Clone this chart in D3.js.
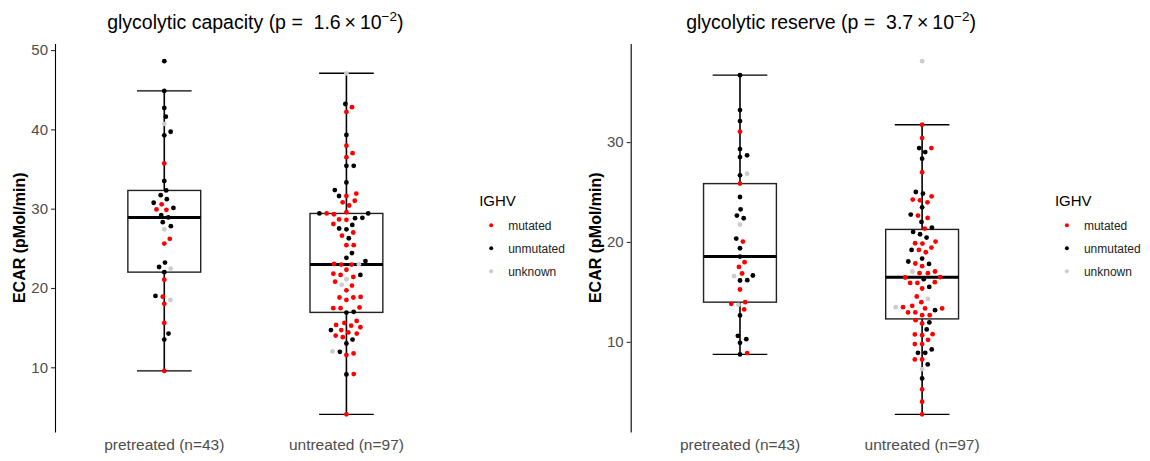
<!DOCTYPE html>
<html>
<head>
<meta charset="utf-8">
<script src="https://cdn.jsdelivr.net/npm/d3@7"></script>
<style>
  body { margin: 0; background: #fff; }
  svg { display: block; font-family: "Liberation Sans", Arial, sans-serif; }
</style>
</head>
<body>
<div id="chart"></div>
<script>
// categories + legend
const groups = ['pretreated (n=43)', 'untreated (n=97)'];
const ighvLevels = ['mutated', 'unmutated', 'unknown'];
const ighvColors = ['#ff0000', '#000000', '#cccccc'];
// status codes: m = mutated, u = unmutated, x = unknown

// glycolytic capacity
const capPreVals = [48.6, 44.85, 42.7, 41.6, 40.7, 39.7, 39.25, 35.7, 33.5, 32.3, 31.7, 31.2, 30.75, 30.55, 30.1, 29.9, 29.85, 29.2, 28.9, 28.3, 27.8, 27.4, 26.2, 25.6, 23.2, 22.65, 22.45, 22.0, 21.05, 19.0, 18.9, 18.5, 18.0, 15.6, 14.25, 13.5, 9.55];
const capPreIGHV = ['u','u','u','u','x','u','u','m','u','u','u','u','u','m','u','m','m','u','u','u','u','x','m','m','u','u','x','u','m','u','m','x','m','m','u','u','m'];
const capUntVals = [47.07, 43.2, 42.8, 42.2, 39.3, 37.95, 37.0, 36.5, 35.4, 35.4,
  33.3, 32.35, 31.9, 31.6, 31.6, 31.0, 30.8, 30.4, 29.55, 29.4,
  29.4, 29.4, 29.3, 28.85, 28.8, 28.65, 28.6, 28.07, 27.95, 27.5,
  27.4, 27.0, 26.6, 26.27, 25.4, 25.4, 24.4, 23.8, 23.4, 23.0,
  22.95, 22.95, 23.03, 22.3, 21.8, 21.65, 21.65, 21.4, 21.1, 20.8,
  20.4, 20.3, 19.7, 18.87, 18.8, 18.8, 18.5, 17.55, 17.45, 17.45,
  17.0, 16.9, 15.85, 15.6, 15.35, 15.25, 15.05, 14.7, 14.7, 14.4,
  14.25, 14.0, 13.8, 13.5, 13.0, 12.0, 11.95, 11.75, 11.55, 9.15,
  9.1, 4.07];
const capUntIGHV = ['x','u','m','m','u','m','m','m','u','u',
  'u','u','m','m','u','m','m','m','m','m',
  'u','u','m','u','u','m','m','m','u','u',
  'u','m','m','u','m','m','u','u','u','x',
  'm','m','m','m','m','m','u','m','x','m',
  'x','m','m','m','m','m','m','m','m','m',
  'u','u','m','m','m','m','m','m','u','m',
  'm','m','m','u','u','x','u','m','m','m',
  'u','m'];

// glycolytic reserve
const resPreVals = [36.7, 33.2, 32.1, 31.04, 29.3, 28.67, 28.5, 26.84, 26.67, 25.84, 24.5, 23.27, 22.64, 22.37, 21.74, 20.34, 20.04, 19.37, 18.54, 17.97, 17.5, 16.84, 16.64, 16.57, 16.17, 16.14, 15.24, 13.97, 13.8, 13.7, 13.24, 12.64, 10.6, 10.27, 9.9, 8.87, 8.74];
const resPreIGHV = ['u','u','u','m','u','u','u','x','u','m','u','u','u','u','x','u','m','u','u','m','m','m','u','x','u','u','m','m','m','x','m','u','u','u','u','m','u'];
const resUntVals = [38.1, 31.74, 30.4, 29.4, 29.4, 29.0, 28.34, 26.97, 25.0, 24.84,
  24.57, 24.24, 24.17, 23.97, 23.47, 22.74, 22.64, 22.4, 22.0, 21.44,
  21.34, 21.0, 20.77, 20.44, 20.04, 19.87, 19.84, 19.44, 19.2, 19.2,
  18.97, 18.34, 18.04, 17.84, 17.8, 17.57, 17.04, 17.04, 16.87, 16.87,
  16.47, 16.44, 16.27, 15.97, 15.9, 15.9, 15.5, 15.34, 14.54, 14.3,
  13.97, 13.6, 13.47, 13.47, 13.34, 13.34, 13.17, 12.94, 12.94, 12.67,
  12.67, 12.17, 11.94, 11.84, 11.24, 10.77, 10.74, 10.67, 10.2, 9.77,
  9.77, 9.24, 8.9, 8.9, 8.24, 8.24, 7.74, 7.27, 6.34, 5.24,
  4.0, 2.74];
const resUntIGHV = ['x','m','m','u','m','u','u','m','u','u',
  'm','m','m','m','u','u','m','m','u','u',
  'm','u','u','u','m','m','m','m','m','u',
  'm','u','u','m','u','m','x','m','m','m',
  'm','m','u','m','m','m','u','m','m','x',
  'm','m','m','x','m','m','u','m','m','m',
  'm','m','u','m','u','m','m','m','m','m',
  'm','u','u','u','m','m','u','x','u','m',
  'm','m'];

const capTicks = [10, 20, 30, 40, 50];
const resTicks = [10, 20, 30];

const W = 1150, H = 461;
const svg = d3.select('#chart').append('svg').attr('width', W).attr('height', H);
svg.append('rect').attr('width', W).attr('height', H).attr('fill', '#fff');

const color = d3.scaleOrdinal().domain(['m', 'u', 'x']).range(ighvColors);

// simple swarm layout (ascending priority) in pixel space
function swarm(py, D) {
  const order = d3.range(py.length).sort((a, b) => py[b] - py[a]);
  const placed = [];
  const off = new Array(py.length);
  order.forEach(i => {
    const yi = py[i];
    const near = placed.filter(p => Math.abs(p.y - yi) < D);
    let cands = [0];
    near.forEach(p => {
      const dx = Math.sqrt(D * D - (p.y - yi) ** 2);
      cands.push(p.x + dx, p.x - dx);
    });
    cands = cands.filter(c => near.every(p => (p.x - c) ** 2 + (p.y - yi) ** 2 >= D * D - 1e-6));
    cands.sort((a, b) => (Math.abs(a) - Math.abs(b)) > 1e-6 ? 1 : (Math.abs(b) - Math.abs(a)) > 1e-6 ? -1 : b - a);
    off[i] = cands[0];
    placed.push({ x: cands[0], y: yi });
  });
  return off;
}

function boxStats(vals) {
  const s = vals.slice().sort(d3.ascending);
  const q1 = d3.quantileSorted(s, 0.25), med = d3.quantileSorted(s, 0.5), q3 = d3.quantileSorted(s, 0.75);
  const iqr = q3 - q1;
  const lo = d3.min(s.filter(v => v >= q1 - 1.5 * iqr));
  const hi = d3.max(s.filter(v => v <= q3 + 1.5 * iqr));
  return { q1, med, q3, lo, hi };
}

function drawPanel(p) {
  const left = p.left, innerW = 400.7;
  const top = 43.5, bottom = 432;
  const all = p.series.flatMap(s => s.vals);
  const [mn, mx] = d3.extent(all);
  const pad = (mx - mn) * 0.05;
  const y = d3.scaleLinear().domain([mn - pad, mx + pad]).range([bottom, top]);
  const x = d3.scalePoint().domain(groups).range([left, left + innerW]).padding(0.6);
  const step = x.step();
  const g = svg.append('g');

  // title
  const t = g.append('text')
    .attr('x', left + innerW / 2)
    .attr('y', 28.5)
    .attr('text-anchor', 'middle')
    .attr('font-size', '19.5px')
    .attr('fill', '#000')
    .style('white-space', 'pre');
  t.append('tspan').text(p.title);
  t.append('tspan').attr('font-size', '13.5px').attr('dy', -8).text('\u22122');
  t.append('tspan').attr('dy', 8).text(')');

  // y axis
  const ax = g.append('g')
    .attr('transform', `translate(${left},0)`)
    .call(d3.axisLeft(y).tickValues(p.ticks).tickSize(4).tickSizeOuter(0).tickPadding(3));
  ax.select('.domain').attr('stroke', '#000').attr('stroke-width', 1.1);
  ax.selectAll('.tick line').attr('stroke', '#333').attr('stroke-width', 1.1);
  ax.selectAll('.tick text').attr('fill', '#4d4d4d').attr('font-size', '15px')
    .attr('font-family', '"Liberation Sans", Arial, sans-serif');

  g.append('text')
    .attr('transform', `translate(${left - 30},${(top + bottom) / 2}) rotate(-90)`)
    .attr('text-anchor', 'middle')
    .attr('font-size', '16px')
    .attr('font-weight', 'bold')
    .attr('fill', '#000')
    .text('ECAR (pMol/min)');

  // x labels
  groups.forEach(grp => {
    g.append('text')
      .attr('x', x(grp)).attr('y', 449.5)
      .attr('text-anchor', 'middle')
      .attr('font-size', '15.5px')
      .attr('fill', '#4d4d4d')
      .text(grp);
  });

  // boxes
  p.series.forEach((s, gi) => {
    const cx = x(groups[gi]);
    const st = boxStats(s.vals);
    const bw = step * 0.4, cw = step * 0.3;
    // whiskers + caps
    g.append('line').attr('x1', cx).attr('x2', cx).attr('y1', y(st.hi)).attr('y2', y(st.q3))
      .attr('stroke', '#000').attr('stroke-width', 1.6);
    g.append('line').attr('x1', cx).attr('x2', cx).attr('y1', y(st.q1)).attr('y2', y(st.lo))
      .attr('stroke', '#000').attr('stroke-width', 1.6);
    [st.hi, st.lo].forEach(v => {
      g.append('line').attr('x1', cx - cw / 2).attr('x2', cx + cw / 2).attr('y1', y(v)).attr('y2', y(v))
        .attr('stroke', '#000').attr('stroke-width', 1.4);
    });
    g.append('rect')
      .attr('x', cx - bw / 2).attr('width', bw)
      .attr('y', y(st.q3)).attr('height', y(st.q1) - y(st.q3))
      .attr('fill', 'none').attr('stroke', '#222').attr('stroke-width', 1.4);
    g.append('line').attr('x1', cx - bw / 2).attr('x2', cx + bw / 2).attr('y1', y(st.med)).attr('y2', y(st.med))
      .attr('stroke', '#000').attr('stroke-width', 3);

    // points
    const py = s.vals.map(v => y(v));
    const off = swarm(py, 7.3);
    g.append('g').selectAll('circle').data(s.vals).join('circle')
      .attr('cx', (d, i) => cx + off[i])
      .attr('cy', d => y(d))
      .attr('r', 2.4)
      .attr('fill', (d, i) => color(s.ighv[i]));
  });

  // legend
  const lx = left + innerW + 23.5;
  const lg = g.append('g');
  lg.append('text').attr('x', lx).attr('y', 206).attr('font-size', '15px').attr('fill', '#000').text('IGHV');
  ighvLevels.forEach((lvl, i) => {
    const yy = 225.3 + i * 23;
    lg.append('circle').attr('cx', lx + 12).attr('cy', yy).attr('r', 2).attr('fill', ighvColors[i]);
    lg.append('text').attr('x', lx + 29).attr('y', yy).attr('dy', '0.35em')
      .attr('font-size', '12px').attr('fill', '#222').text(lvl);
  });
}

drawPanel({
  left: 55,
  title: 'glycolytic capacity (p =  1.6\u2009\u00d7\u200910',
  ticks: capTicks,
  series: [{ vals: capPreVals, ighv: capPreIGHV }, { vals: capUntVals, ighv: capUntIGHV }]
});
drawPanel({
  left: 630.7,
  title: 'glycolytic reserve (p =  3.7\u2009\u00d7\u200910',
  ticks: resTicks,
  series: [{ vals: resPreVals, ighv: resPreIGHV }, { vals: resUntVals, ighv: resUntIGHV }]
});
</script>
</body>
</html>
